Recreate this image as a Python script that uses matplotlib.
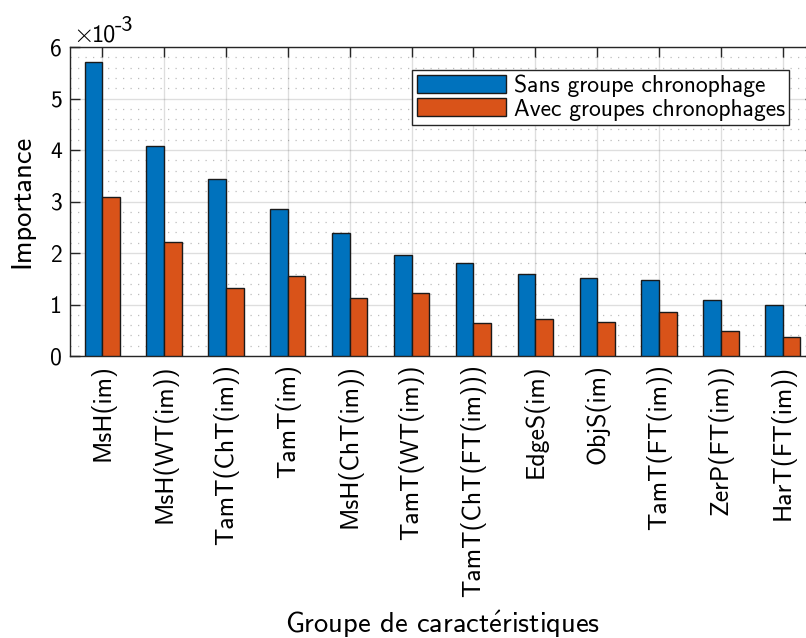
import matplotlib
matplotlib.use("Agg")
import matplotlib.pyplot as plt
import numpy as np
from matplotlib.ticker import MultipleLocator

categories = ["MsH(im)", "MsH(WT(im))", "TamT(ChT(im))", "TamT(im)", "MsH(ChT(im))",
              "TamT(WT(im))", "TamT(ChT(FT(im)))", "EdgeS(im)", "ObjS(im)",
              "TamT(FT(im))", "ZerP(FT(im))", "HarT(FT(im))"]
sans_groupe = [5.71, 4.08, 3.44, 2.85, 2.39, 1.96, 1.81, 1.60, 1.51, 1.48, 1.09, 1.00]
avec_groupes = [3.09, 2.21, 1.32, 1.55, 1.12, 1.23, 0.65, 0.71, 0.66, 0.85, 0.49, 0.36]
series_labels = ["Sans groupe chronophage", "Avec groupes chronophages"]

plt.rcParams['font.family'] = ['cmss10', 'DejaVu Sans']
plt.rcParams['mathtext.fontset'] = 'cm'
plt.rcParams['axes.unicode_minus'] = False

fig = plt.figure(figsize=(8.06, 6.38), dpi=100)
ax = fig.add_axes([70/806, 1-356/638, (815-70)/806, (356-47)/638])

x = np.arange(1, len(categories) + 1)
w = 0.285
ax.bar(x - w/2, sans_groupe, w, color="#0072BD", edgecolor="#1a1a1a", linewidth=1.0,
       label=series_labels[0], zorder=3)
ax.bar(x + w/2, avec_groupes, w, color="#D95319", edgecolor="#1a1a1a", linewidth=1.0,
       label=series_labels[1], zorder=3)

ax.set_xlim(0.48, 12.52)
ax.set_ylim(0, 6)
ax.set_xticks(x)
ax.set_xticklabels(categories, rotation=90, fontsize=18.5)
ax.set_yticks(range(0, 7))
ax.tick_params(axis='y', labelsize=17)
ax.yaxis.set_minor_locator(MultipleLocator(0.2))
ax.tick_params(which='both', direction='in', top=True, right=True, length=7,
               width=1.0, color='#262626', pad=6)
ax.tick_params(which='minor', length=0)

ax.grid(which='major', color='#262626', alpha=0.15, linewidth=1.0, zorder=0)
ax.grid(which='minor', axis='y', color='#262626', alpha=0.3, linestyle=(0, (1, 5)),
        linewidth=0.9, zorder=0)
ax.set_axisbelow(True)
for s in ax.spines.values():
    s.set_color('#262626')
    s.set_linewidth(1.0)

ax.set_ylabel("Importance", fontsize=20.5, labelpad=11)
ax.set_xlabel(r"Groupe de caract$\acute{\mathsf{e}}$ristiques", fontsize=20.5, labelpad=8)

# exponent marker above the y axis
fig.text(73/806, 1-42/638, r"$\times$", fontsize=19, ha='left', va='baseline')
fig.text(92/806, 1-42/638, "10", fontsize=17.5, ha='left', va='baseline')
fig.text(115/806, 1-31/638, "-3", fontsize=16, ha='left', va='baseline')

leg = ax.legend(loc='upper left', bbox_to_anchor=((412-70)/745, 1-(70-47)/309),
                fontsize=17, frameon=True, fancybox=False, edgecolor='#262626',
                handlelength=3.8, handleheight=0.8, borderpad=0.2, labelspacing=0.05,
                handletextpad=0.3, borderaxespad=0)
leg.get_frame().set_linewidth(1.0)
leg.get_frame().set_alpha(1)

fig.savefig("out.png", dpi=100)
